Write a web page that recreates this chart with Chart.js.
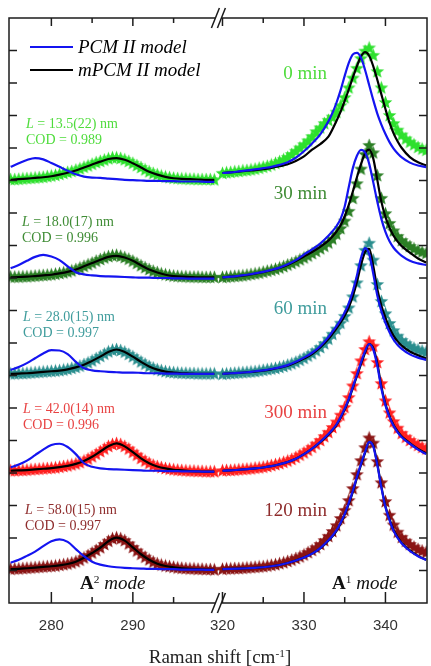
<!DOCTYPE html>
<html>
<head>
<meta charset="utf-8">
<script src="https://cdn.jsdelivr.net/npm/chart.js@4.4.1/dist/chart.umd.min.js"></script>
<style>
  html, body { margin: 0; padding: 0; background: #fff; overflow: hidden; }
  #wrap { position: relative; width: 434px; height: 666px; }
  .lbl { position: absolute; white-space: nowrap; font-family: "Liberation Serif", "Times New Roman", serif; line-height: 1; }
  .key { position: absolute; height: 0; width: 43px; left: 30px; }
  sup { font-size: 60%; vertical-align: 0.55em; line-height: 0; }
</style>
</head>
<body>
<div id="wrap">
  <canvas id="chart"></canvas>
</div>
<script>
// ---- labels ----
const timeLabels = ["0 min", "30 min", "60 min", "300 min", "120 min"];
const sizeLabels = ["13.5(22)", "18.0(17)", "28.0(15)", "42.0(14)", "58.0(15)"];
const codLabels = ["0.989", "0.996", "0.997", "0.996", "0.997"];
const offsets = [13, 10, 7, 4, 1];

const majorTicks = [280, 290, 320, 330, 340];
const minorTicks = [285, 295, 325, 335];
const yTicks = [1, 2, 3, 4, 5, 6, 7, 8, 9, 10, 11, 12, 13, 14, 15, 16, 17];

// ---- x positions (cm-1) ----
const lineXLeft = [275, 276, 277, 278, 279, 280, 281, 282, 283, 284, 285, 286, 287, 288, 289, 290, 291, 292, 293, 294, 295, 296, 297, 298, 299, 300];
const lineXRight = [320, 321, 322, 323, 324, 325, 326, 327, 328, 329, 330, 331, 332, 333, 333.5, 334, 334.5, 335, 335.5, 336, 336.5, 337, 337.5, 338, 338.5, 339, 339.5, 340, 340.5, 341, 341.5, 342, 343, 344, 345];
const starXLeft = [275, 275.5, 276, 276.5, 277, 277.5, 278, 278.5, 279, 279.5, 280, 280.5, 281, 281.5, 282, 282.5, 283, 283.5, 284, 284.5, 285, 285.5, 286, 286.5, 287, 287.5, 288, 288.5, 289, 289.5, 290, 290.5, 291, 291.5, 292, 292.5, 293, 293.5, 294, 294.5, 295, 295.5, 296, 296.5, 297, 297.5, 298, 298.5, 299, 299.5, 300];
const starXRight = [320, 320.5, 321, 321.5, 322, 322.5, 323, 323.5, 324, 324.5, 325, 325.5, 326, 326.5, 327, 327.5, 328, 328.5, 329, 329.5, 330, 330.5, 331, 331.5, 332, 332.5, 333, 333.5, 334, 334.5, 335, 335.5, 336, 336.5, 337, 337.5, 338, 338.5, 339, 339.5, 340, 340.5, 341, 341.5, 342, 342.5, 343, 343.5, 344, 344.5, 345];

// ---- 0 min ----
const obsL0 = [0.03, 0.03, 0.04, 0.05, 0.06, 0.07, 0.08, 0.09, 0.10, 0.12, 0.14, 0.16, 0.19, 0.22, 0.25, 0.28, 0.32, 0.36, 0.41, 0.45, 0.50, 0.55, 0.59, 0.63, 0.67, 0.70, 0.70, 0.68, 0.64, 0.59, 0.53, 0.46, 0.40, 0.33, 0.27, 0.22, 0.18, 0.14, 0.11, 0.09, 0.07, 0.06, 0.05, 0.05, 0.04, 0.04, 0.03, 0.03, 0.03, 0.03, 0.02];
const obsR0 = [0.22, 0.24, 0.25, 0.27, 0.28, 0.30, 0.31, 0.33, 0.35, 0.38, 0.41, 0.44, 0.48, 0.53, 0.58, 0.64, 0.71, 0.80, 0.90, 1.00, 1.10, 1.22, 1.35, 1.50, 1.62, 1.75, 1.85, 1.95, 2.10, 2.30, 2.55, 2.85, 3.15, 3.45, 3.75, 3.98, 4.08, 3.85, 3.35, 2.85, 2.40, 2.00, 1.75, 1.55, 1.40, 1.28, 1.18, 1.10, 1.02, 0.97, 0.93];
const mpcmL0 = [0.02, 0.04, 0.06, 0.08, 0.10, 0.13, 0.18, 0.24, 0.31, 0.40, 0.49, 0.58, 0.66, 0.69, 0.64, 0.53, 0.40, 0.27, 0.18, 0.11, 0.07, 0.05, 0.04, 0.03, 0.02, 0.02];
const mpcmR0 = [0.23, 0.25, 0.27, 0.30, 0.32, 0.35, 0.39, 0.44, 0.50, 0.60, 0.74, 0.95, 1.12, 1.35, 1.58, 1.84, 2.12, 2.45, 2.80, 3.17, 3.52, 3.82, 3.95, 3.84, 3.52, 3.10, 2.65, 2.20, 1.78, 1.45, 1.20, 1.00, 0.72, 0.56, 0.46];
const pcmL0 = [0.42, 0.53, 0.63, 0.69, 0.65, 0.54, 0.42, 0.30, 0.19, 0.12, 0.09, 0.08, 0.06, 0.04, 0.02, 0.01, 0.00, -0.01, -0.01, -0.02, -0.02, -0.03, -0.03, -0.03, -0.04, -0.04];
const pcmR0 = [0.23, 0.25, 0.28, 0.31, 0.34, 0.38, 0.42, 0.48, 0.56, 0.70, 0.90, 1.14, 1.42, 1.82, 2.08, 2.40, 2.78, 3.22, 3.62, 3.88, 3.93, 3.78, 3.40, 2.94, 2.48, 2.06, 1.72, 1.43, 1.18, 0.98, 0.83, 0.71, 0.55, 0.46, 0.41];

// ---- 30 min ----
const obsL30 = [0.03, 0.03, 0.03, 0.04, 0.04, 0.05, 0.06, 0.07, 0.08, 0.09, 0.10, 0.12, 0.14, 0.16, 0.19, 0.22, 0.26, 0.31, 0.36, 0.41, 0.46, 0.52, 0.57, 0.62, 0.66, 0.69, 0.70, 0.67, 0.63, 0.58, 0.52, 0.45, 0.38, 0.32, 0.26, 0.21, 0.17, 0.13, 0.10, 0.08, 0.06, 0.05, 0.04, 0.04, 0.03, 0.03, 0.03, 0.02, 0.02, 0.02, 0.02];
const obsR30 = [0.02, 0.03, 0.04, 0.05, 0.06, 0.07, 0.09, 0.11, 0.13, 0.15, 0.18, 0.21, 0.24, 0.27, 0.31, 0.35, 0.40, 0.45, 0.50, 0.56, 0.62, 0.68, 0.75, 0.82, 0.90, 0.98, 1.08, 1.20, 1.35, 1.52, 1.75, 2.05, 2.45, 2.90, 3.35, 3.80, 4.08, 3.85, 3.15, 2.45, 1.98, 1.68, 1.45, 1.28, 1.15, 1.05, 0.97, 0.90, 0.84, 0.80, 0.76];
const mpcmL30 = [0.02, 0.03, 0.04, 0.06, 0.08, 0.10, 0.14, 0.19, 0.26, 0.36, 0.46, 0.56, 0.65, 0.68, 0.63, 0.53, 0.39, 0.26, 0.17, 0.10, 0.06, 0.04, 0.03, 0.02, 0.02, 0.02];
const mpcmR30 = [0.02, 0.04, 0.06, 0.09, 0.13, 0.18, 0.24, 0.31, 0.40, 0.52, 0.66, 0.80, 0.96, 1.15, 1.28, 1.43, 1.62, 1.90, 2.25, 2.66, 3.10, 3.50, 3.84, 3.95, 3.68, 3.02, 2.35, 1.88, 1.55, 1.30, 1.12, 0.98, 0.78, 0.60, 0.48];
const pcmL30 = [0.30, 0.40, 0.53, 0.65, 0.71, 0.66, 0.55, 0.36, 0.18, 0.11, 0.08, 0.06, 0.05, 0.04, 0.03, 0.02, 0.01, 0.01, 0.00, 0.00, -0.01, -0.01, -0.02, -0.02, -0.02, -0.02];
const pcmR30 = [0.02, 0.04, 0.07, 0.10, 0.14, 0.19, 0.25, 0.32, 0.42, 0.55, 0.72, 0.88, 1.06, 1.30, 1.44, 1.60, 1.82, 2.20, 2.80, 3.38, 3.76, 3.94, 3.86, 3.52, 2.95, 2.35, 1.82, 1.42, 1.13, 0.93, 0.79, 0.68, 0.53, 0.45, 0.40];

// ---- 60 min ----
const obsL60 = [0.05, 0.05, 0.06, 0.06, 0.07, 0.08, 0.09, 0.10, 0.11, 0.12, 0.13, 0.14, 0.15, 0.17, 0.19, 0.22, 0.25, 0.29, 0.34, 0.39, 0.45, 0.52, 0.59, 0.66, 0.73, 0.78, 0.80, 0.77, 0.72, 0.65, 0.58, 0.50, 0.42, 0.35, 0.28, 0.23, 0.18, 0.15, 0.12, 0.10, 0.09, 0.08, 0.07, 0.07, 0.06, 0.06, 0.05, 0.05, 0.05, 0.05, 0.05];
const obsR60 = [0.04, 0.05, 0.06, 0.07, 0.08, 0.09, 0.10, 0.11, 0.12, 0.14, 0.16, 0.18, 0.20, 0.22, 0.25, 0.28, 0.32, 0.36, 0.41, 0.47, 0.53, 0.60, 0.67, 0.76, 0.86, 0.98, 1.12, 1.27, 1.43, 1.61, 1.82, 2.08, 2.42, 2.85, 3.38, 3.85, 4.07, 3.55, 2.80, 2.28, 1.90, 1.60, 1.38, 1.21, 1.08, 0.98, 0.90, 0.84, 0.79, 0.75, 0.72];
const mpcmL60 = [0.05, 0.06, 0.07, 0.09, 0.11, 0.13, 0.15, 0.19, 0.25, 0.33, 0.45, 0.58, 0.72, 0.80, 0.72, 0.58, 0.42, 0.28, 0.18, 0.12, 0.09, 0.07, 0.06, 0.05, 0.05, 0.05];
const mpcmR60 = [0.05, 0.07, 0.08, 0.10, 0.12, 0.15, 0.19, 0.24, 0.30, 0.40, 0.52, 0.66, 0.86, 1.12, 1.28, 1.45, 1.63, 1.84, 2.10, 2.44, 2.88, 3.40, 3.80, 3.90, 3.38, 2.66, 2.15, 1.78, 1.46, 1.22, 1.05, 0.92, 0.74, 0.62, 0.52];
const pcmL60 = [0.17, 0.26, 0.38, 0.53, 0.68, 0.78, 0.77, 0.66, 0.42, 0.22, 0.16, 0.13, 0.11, 0.10, 0.09, 0.09, 0.08, 0.07, 0.07, 0.06, 0.06, 0.05, 0.05, 0.05, 0.05, 0.05];
const pcmR60 = [0.05, 0.07, 0.08, 0.10, 0.13, 0.16, 0.20, 0.25, 0.32, 0.42, 0.55, 0.70, 0.90, 1.18, 1.35, 1.52, 1.71, 1.94, 2.22, 2.60, 3.08, 3.62, 3.92, 3.74, 3.14, 2.46, 1.98, 1.62, 1.33, 1.10, 0.94, 0.82, 0.65, 0.55, 0.48];

// ---- 300 min ----
const obsL300 = [0.07, 0.07, 0.08, 0.08, 0.09, 0.10, 0.11, 0.12, 0.13, 0.14, 0.15, 0.16, 0.18, 0.20, 0.22, 0.25, 0.28, 0.32, 0.37, 0.43, 0.50, 0.58, 0.66, 0.74, 0.82, 0.88, 0.91, 0.88, 0.82, 0.74, 0.64, 0.55, 0.45, 0.37, 0.30, 0.24, 0.20, 0.17, 0.14, 0.12, 0.10, 0.09, 0.08, 0.07, 0.06, 0.06, 0.05, 0.05, 0.04, 0.04, 0.04];
const obsR300 = [0.07, 0.08, 0.08, 0.09, 0.10, 0.11, 0.12, 0.13, 0.15, 0.16, 0.18, 0.20, 0.23, 0.26, 0.29, 0.33, 0.37, 0.42, 0.48, 0.55, 0.62, 0.70, 0.79, 0.89, 1.00, 1.12, 1.25, 1.40, 1.57, 1.78, 2.02, 2.32, 2.68, 3.06, 3.45, 3.80, 4.04, 3.90, 3.40, 2.75, 2.22, 1.85, 1.58, 1.38, 1.22, 1.10, 1.00, 0.92, 0.85, 0.79, 0.74];
const mpcmL300 = [0.07, 0.08, 0.09, 0.11, 0.13, 0.15, 0.18, 0.22, 0.28, 0.37, 0.50, 0.66, 0.82, 0.91, 0.82, 0.64, 0.45, 0.30, 0.20, 0.14, 0.10, 0.08, 0.06, 0.05, 0.04, 0.04];
const mpcmR300 = [0.07, 0.08, 0.10, 0.12, 0.14, 0.17, 0.21, 0.27, 0.34, 0.44, 0.58, 0.75, 0.95, 1.18, 1.32, 1.48, 1.70, 1.95, 2.25, 2.62, 2.98, 3.35, 3.70, 3.97, 3.85, 3.38, 2.66, 2.12, 1.75, 1.48, 1.28, 1.12, 0.92, 0.74, 0.60];
const pcmL300 = [0.17, 0.26, 0.38, 0.55, 0.72, 0.86, 0.90, 0.80, 0.58, 0.30, 0.19, 0.14, 0.12, 0.11, 0.10, 0.09, 0.08, 0.07, 0.07, 0.06, 0.06, 0.05, 0.05, 0.05, 0.04, 0.04];
const pcmR300 = [0.07, 0.08, 0.10, 0.12, 0.14, 0.17, 0.21, 0.27, 0.34, 0.44, 0.58, 0.75, 0.96, 1.20, 1.34, 1.50, 1.72, 1.98, 2.28, 2.65, 3.02, 3.40, 3.75, 3.97, 3.80, 3.30, 2.60, 2.08, 1.72, 1.45, 1.25, 1.10, 0.90, 0.72, 0.58];

// ---- 120 min ----
const obsL120 = [0.04, 0.05, 0.05, 0.06, 0.07, 0.08, 0.09, 0.10, 0.11, 0.12, 0.13, 0.14, 0.16, 0.18, 0.20, 0.23, 0.27, 0.32, 0.39, 0.46, 0.54, 0.62, 0.70, 0.80, 0.90, 0.98, 1.01, 0.98, 0.92, 0.82, 0.71, 0.60, 0.50, 0.41, 0.33, 0.26, 0.21, 0.17, 0.14, 0.12, 0.10, 0.08, 0.07, 0.06, 0.05, 0.05, 0.04, 0.04, 0.03, 0.03, 0.02];
const obsR120 = [0.04, 0.05, 0.05, 0.06, 0.06, 0.07, 0.08, 0.09, 0.10, 0.11, 0.12, 0.14, 0.16, 0.18, 0.21, 0.24, 0.28, 0.32, 0.37, 0.42, 0.48, 0.55, 0.62, 0.70, 0.80, 0.92, 1.05, 1.20, 1.38, 1.60, 1.85, 2.15, 2.52, 2.95, 3.38, 3.78, 4.08, 3.92, 3.35, 2.70, 2.12, 1.70, 1.40, 1.18, 1.02, 0.90, 0.80, 0.72, 0.65, 0.60, 0.56];
const mpcmL120 = [0.04, 0.05, 0.07, 0.09, 0.11, 0.13, 0.16, 0.20, 0.27, 0.39, 0.54, 0.70, 0.90, 1.01, 0.92, 0.71, 0.50, 0.33, 0.21, 0.14, 0.10, 0.07, 0.05, 0.04, 0.03, 0.02];
const mpcmR120 = [0.04, 0.05, 0.06, 0.07, 0.08, 0.10, 0.13, 0.17, 0.23, 0.31, 0.40, 0.52, 0.68, 0.92, 1.05, 1.22, 1.45, 1.72, 2.05, 2.42, 2.85, 3.25, 3.62, 3.95, 3.85, 3.28, 2.58, 1.98, 1.58, 1.25, 1.02, 0.85, 0.62, 0.45, 0.33];
const pcmL120 = [0.24, 0.33, 0.45, 0.58, 0.75, 0.90, 0.96, 0.88, 0.66, 0.44, 0.27, 0.18, 0.13, 0.10, 0.08, 0.07, 0.06, 0.05, 0.05, 0.04, 0.04, 0.03, 0.03, 0.03, 0.02, 0.02];
const pcmR120 = [0.04, 0.05, 0.06, 0.07, 0.08, 0.10, 0.13, 0.17, 0.23, 0.31, 0.40, 0.52, 0.69, 0.93, 1.07, 1.24, 1.47, 1.74, 2.08, 2.45, 2.88, 3.28, 3.65, 3.96, 3.82, 3.25, 2.55, 1.95, 1.55, 1.22, 1.00, 0.83, 0.60, 0.44, 0.32];

const observed = [[obsL0, obsR0], [obsL30, obsR30], [obsL60, obsR60], [obsL300, obsR300], [obsL120, obsR120]];
const mpcmFits = [[mpcmL0, mpcmR0], [mpcmL30, mpcmR30], [mpcmL60, mpcmR60], [mpcmL300, mpcmR300], [mpcmL120, mpcmR120]];
const pcmFits = [[pcmL0, pcmR0], [pcmL30, pcmR30], [pcmL60, pcmR60], [pcmL300, pcmR300], [pcmL120, pcmR120]];

// ---- styles ----
const starColors = ["#2ee02e", "#2b7f25", "#2a8e8e", "#ff1f1f", "#8a1414"];
const textColors = ["#4fdc3c", "#3f8c35", "#3f9c9c", "#e84343", "#8e2c2c"];
const pcmColor = "#1414f0";
const mpcmColor = "#000000";

// the x axis is broken between 300 and 320 cm-1
const breakLeft = 300;
const breakShift = 19;
const breakAt = breakLeft + 0.5;
const toAxis = x => (x > breakAt ? x - breakShift : x);
const toReal = v => (v > breakAt ? v + breakShift : v);

function segmentPoints(xl, yl, xr, yr, offset) {
  const left = xl.map((x, i) => ({x: toAxis(x), y: offset + yl[i]}));
  const right = xr.map((x, i) => ({x: toAxis(x), y: offset + yr[i]}));
  return [...left, {x: breakAt, y: null}, ...right];
}

function makeStar(color) {
  const c = document.createElement("canvas");
  c.width = 15;
  c.height = 15;
  const g = c.getContext("2d");
  g.fillStyle = color;
  g.beginPath();
  for (let i = 0; i < 10; i++) {
    const r = i % 2 === 0 ? 7.2 : 3.1;
    const a = -Math.PI / 2 + i * Math.PI / 5;
    g.lineTo(7.5 + r * Math.cos(a), 7.8 + r * Math.sin(a));
  }
  g.closePath();
  g.fill();
  return c;
}

const datasets = [];
offsets.forEach((off, i) => {
  datasets.push({
    data: segmentPoints(lineXLeft, pcmFits[i][0], lineXRight, pcmFits[i][1], off),
    borderColor: pcmColor, borderWidth: 2.2, pointRadius: 0,
    cubicInterpolationMode: "monotone", spanGaps: false, order: 0,
  });
  datasets.push({
    data: segmentPoints(lineXLeft, mpcmFits[i][0], lineXRight, mpcmFits[i][1], off),
    borderColor: mpcmColor, borderWidth: 2.2, pointRadius: 0,
    cubicInterpolationMode: "monotone", spanGaps: false, order: 1,
  });
  datasets.push({
    data: segmentPoints(starXLeft, observed[i][0], starXRight, observed[i][1], off),
    showLine: false, pointStyle: makeStar(starColors[i]), pointRadius: 6,
    order: 2,
  });
});

const framePlugin = {
  id: "frame",
  afterDatasetsDraw(chart) {
    const {ctx, chartArea: a, scales: {x, y}} = chart;
    const seg = (x1, y1, x2, y2) => { ctx.beginPath(); ctx.moveTo(x1, y1); ctx.lineTo(x2, y2); ctx.stroke(); };
    ctx.save();
    ctx.strokeStyle = "#1c1c1c";
    ctx.lineWidth = 1.5;
    ctx.strokeRect(a.left, a.top, a.right - a.left, a.bottom - a.top);
    majorTicks.forEach(v => {
      const px = x.getPixelForValue(toAxis(v));
      seg(px, a.bottom, px, a.bottom - 11);
      seg(px, a.top, px, a.top + 8);
    });
    minorTicks.forEach(v => {
      const px = x.getPixelForValue(toAxis(v));
      seg(px, a.bottom, px, a.bottom - 6);
      seg(px, a.top, px, a.top + 5);
    });
    yTicks.forEach(v => {
      const py = y.getPixelForValue(v);
      seg(a.left, py, a.left + 8, py);
      seg(a.right, py, a.right - 8, py);
    });
    const bx = x.getPixelForValue(breakAt);
    [a.top, a.bottom].forEach(by => {
      ctx.fillStyle = "#fff";
      ctx.fillRect(bx - 3, by - 2, 6, 4);
      seg(bx - 7, by + 10, bx + 1, by - 10);
      seg(bx - 1, by + 10, bx + 7, by - 10);
    });
    ctx.restore();
  }
};

new Chart(document.getElementById("chart"), {
  type: "line",
  data: {datasets},
  options: {
    responsive: true,
    maintainAspectRatio: false,
    animation: false,
    layout: {padding: {left: 9, top: 18, right: 2, bottom: 0}},
    plugins: {legend: {display: false}, tooltip: {enabled: false}},
    scales: {
      x: {
        type: "linear", min: 274.8, max: 326.1,
        grid: {display: false, drawTicks: false},
        border: {display: false},
        afterBuildTicks: s => { s.ticks = majorTicks.map(v => ({value: toAxis(v)})); },
        afterFit: s => { s.height = 63; },
        ticks: {
          padding: 14, color: "#333", autoSkip: false, maxRotation: 0,
          font: {family: "'Liberation Sans', Arial, sans-serif", size: 15},
          callback: v => String(toReal(v)),
        },
      },
      y: {min: 0, max: 18, display: false},
    },
  },
  plugins: [framePlugin],
});

// ---- text overlays ----
const wrap = document.getElementById("wrap");
function addLabel(html, css) {
  const d = document.createElement("div");
  d.className = "lbl";
  d.innerHTML = html;
  Object.assign(d.style, css);
  wrap.appendChild(d);
  return d;
}
function addKey(color, top) {
  const d = document.createElement("div");
  d.className = "key";
  d.style.top = top + "px";
  d.style.borderTop = "2.5px solid " + color;
  wrap.appendChild(d);
}

addKey(pcmColor, 46);
addKey(mpcmColor, 69);
addLabel("PCM II model", {left: "78px", top: "37px", fontSize: "19px", fontStyle: "italic", color: "#000"});
addLabel("mPCM II model", {left: "78px", top: "60px", fontSize: "19px", fontStyle: "italic", color: "#000"});

const timeTops = [63, 183, 298, 402, 500];
const sizeTops = [117, 215, 310, 402, 503];
const sizeLefts = [26, 22, 23, 23, 25];
timeLabels.forEach((t, i) => {
  addLabel(t, {left: "327px", top: timeTops[i] + "px", fontSize: "19px", color: textColors[i], transform: "translateX(-100%)"});
  addLabel("<i>L</i> = " + sizeLabels[i] + " nm", {left: sizeLefts[i] + "px", top: sizeTops[i] + "px", fontSize: "14px", color: textColors[i]});
  addLabel("COD = " + codLabels[i], {left: sizeLefts[i] + "px", top: (sizeTops[i] + 16) + "px", fontSize: "14px", color: textColors[i]});
});

addLabel("<b>A</b><sup>2</sup> <i>mode</i>", {left: "80px", top: "573px", fontSize: "19px", color: "#111"});
addLabel("<b>A</b><sup>1</sup> <i>mode</i>", {left: "332px", top: "573px", fontSize: "19px", color: "#111"});
addLabel("Raman shift [cm<sup>-1</sup>]", {left: "220px", top: "647px", fontSize: "19px", color: "#222", transform: "translateX(-50%)"});
</script>
</body>
</html>
